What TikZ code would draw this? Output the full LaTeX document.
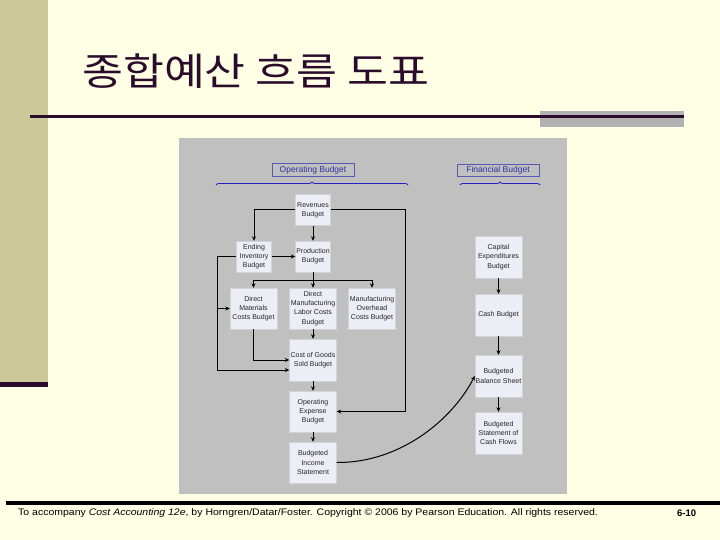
\documentclass[tikz,border=0pt]{standalone}
\usepackage{fontspec}
\setmainfont{Liberation Sans}
\newfontfamily\krfont{Noto Sans CJK KR}
\usetikzlibrary{arrows.meta,decorations.pathreplacing}
\definecolor{bgyel}{HTML}{FFFFE5}
\definecolor{olivebar}{HTML}{CBC99A}
\definecolor{darkpur}{HTML}{2B0B2B}
\definecolor{grayrect}{HTML}{B2B2B2}
\definecolor{panelgray}{HTML}{C0C0C0}
\definecolor{boxfill}{HTML}{ECEEF6}
\definecolor{boxline}{HTML}{D2D2DA}
\definecolor{lblblue}{HTML}{3030A0}
\definecolor{bracblue}{HTML}{2222C0}
\tikzset{
  bx/.style={draw=boxline, fill=boxfill, align=center, inner sep=0pt, text=black!85,
    font=\fontsize{7}{9.3}\selectfont},
  smallbx/.style={bx, minimum width=35pt, minimum height=31pt},
  bigbx/.style={bx, minimum width=47pt, minimum height=42pt},
  arr/.style={-{Stealth[length=4.5pt,width=4pt]}, line width=1pt},
  grplbl/.style={draw=lblblue!80, line width=0.6pt, text=lblblue, inner sep=0pt,
    minimum width=82pt, minimum height=13pt, font=\fontsize{8.5}{10}\selectfont},
  brc/.style={draw=bracblue, line width=0.8pt, decorate, decoration={brace, amplitude=3pt}}
}
\begin{document}
\begin{tikzpicture}[x=1pt,y=-1pt]
\useasboundingbox (0,0) rectangle (720,540);
\fill[bgyel] (0,0) rectangle (720,540);
\fill[olivebar] (0,0) rectangle (48,382);
\fill[darkpur] (0,382) rectangle (48,387);
\fill[grayrect] (540,111) rectangle (684,127);
\fill[darkpur] (30,115.5) rectangle (684,118.5);
\fill[panelgray] (179,138) rectangle (567,494);
\fill[black] (6,501) rectangle (720,505);

\node[anchor=west, inner sep=0pt, text=darkpur, font=\krfont\fontsize{38}{40}\selectfont] (title) at (82,71) {\scalebox{1.17}[1]{종합예산 흐름 도표}};

% group labels
\node[grplbl] (oplbl) at (313,170) {Operating Budget};
\node[grplbl, minimum height=12pt] (finlbl) at (498,170.5) {Financial Budget};
\coordinate (ob1) at (216,185);
\coordinate (ob2) at (408,185);
\coordinate (fb1) at (460,185);
\coordinate (fb2) at (540,185);
\draw[brc] (ob1) -- (ob2);
\draw[brc] (fb1) -- (fb2);

% operating boxes
\node[smallbx] (rev) at (313,210) {Revenues\\Budget};
\node[smallbx] (ei) at (254,256.5) {Ending\\Inventory\\Budget};
\node[smallbx] (prod) at (313,256.5) {Production\\Budget};
\node[bigbx, minimum height=41pt] (dm) at (253.5,308.5) {Direct\\Materials\\Costs Budget};
\node[bigbx, minimum height=41pt] (dml) at (313,308.5) {Direct\\Manufacturing\\Labor Costs\\Budget};
\node[bigbx, minimum height=41pt] (moh) at (372,308.5) {Manufacturing\\Overhead\\Costs Budget};
\node[bigbx] (cogs) at (313,360) {Cost of Goods\\Sold Budget};
\node[bigbx, minimum height=41pt] (opex) at (313,411.5) {Operating\\Expense\\Budget};
\node[bigbx, minimum height=41pt] (inc) at (313,462.5) {Budgeted\\Income\\Statement};

% financial boxes
\node[bigbx] (cap) at (498.5,257) {Capital\\Expenditures\\Budget};
\node[bigbx] (cash) at (498.5,315) {Cash Budget};
\node[bigbx] (bs) at (498.5,376) {Budgeted\\Balance Sheet};
\node[bigbx] (cf) at (498.5,433) {Budgeted\\Statement of\\Cash Flows};

% connectors
\draw[arr] (rev) -- (prod);
\draw[arr] (rev.west) -| (ei.north);
\coordinate (rr) at (405,210);
\draw[arr] (rev.east) -- (rr) |- (opex.east);
\draw[arr] (ei.east) -- (prod.west);
\coordinate (el) at (217,256.5);
\draw[arr] (ei.west) -- (el) |- ([yshift=-10pt]cogs.west);
\draw[arr] (el |- dm.west) -- (dm.west);
\coordinate (pb) at (313,280);
\draw[arr] (prod.south) -- (dml.north);
\draw[arr] (pb) -| (dm.north);
\draw[arr] (pb) -| (moh.north);
\draw[arr] (dml) -- (cogs);
\draw[arr] (dm.south) |- (cogs.west);
\draw[arr] (cogs) -- (opex);
\draw[arr] (opex) -- (inc);
\draw[arr] (inc.east) .. controls (400,463) and (452,420) .. (bs.west);
\draw[arr] (cap) -- (cash);
\draw[arr] (cash) -- (bs);
\draw[arr] (bs) -- (cf);

% footer
\node[anchor=west, inner sep=0pt, font=\fontsize{9.5}{11}\selectfont] (foot) at (18,513)
  {\scalebox{1.105}[1]{To accompany \textit{Cost Accounting 12e}, by Horngren/Datar/Foster. Copyright © 2006 by Pearson Education. All rights reserved.}};
\node[anchor=west, inner sep=0pt, font=\bfseries\fontsize{9.5}{11}\selectfont] (pg) at (677,513) {6-10};
\end{tikzpicture}
\end{document}
